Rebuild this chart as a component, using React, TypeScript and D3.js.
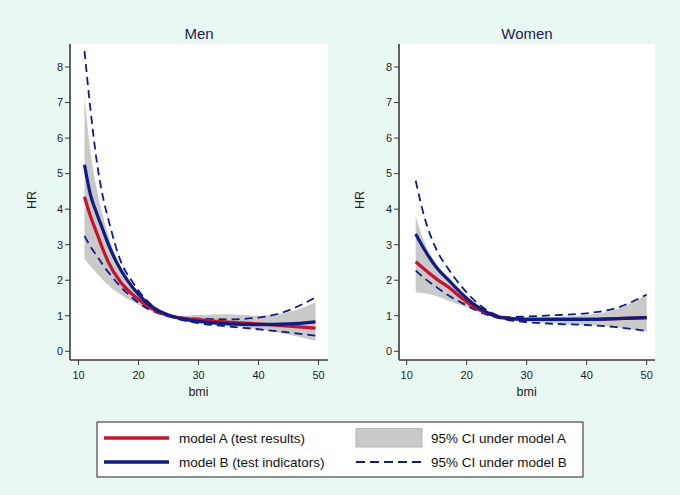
import React from "react";
import * as d3 from "d3";

// ---------- data ----------
const xTicks = [10, 20, 30, 40, 50];
const yTicks = [0, 1, 2, 3, 4, 5, 6, 7, 8];

// Men
const menBmi = [11, 12, 13, 14, 15, 17, 19, 21, 23, 25, 27, 30, 35, 40, 45, 49.5];
const menA = [4.35, 3.8, 3.35, 2.9, 2.5, 1.95, 1.6, 1.33, 1.13, 1.0, 0.94, 0.89, 0.82, 0.77, 0.71, 0.65];
const menB = [5.25, 4.4, 3.9, 3.45, 3.0, 2.3, 1.8, 1.43, 1.17, 1.02, 0.92, 0.84, 0.77, 0.75, 0.77, 0.83];
const menAUpper = [7.2, 5.6, 4.6, 3.85, 3.25, 2.4, 1.85, 1.45, 1.2, 1.05, 1.0, 1.02, 1.04, 1.0, 1.1, 1.38];
const menALower = [2.6, 2.4, 2.2, 2.02, 1.85, 1.6, 1.4, 1.22, 1.08, 0.98, 0.9, 0.82, 0.72, 0.62, 0.47, 0.3];
const menBUpper = [8.45, 6.8, 5.4, 4.4, 3.7, 2.55, 1.95, 1.5, 1.2, 1.02, 0.95, 0.92, 0.9, 0.95, 1.15, 1.52];
const menBLower = [3.25, 2.95, 2.7, 2.45, 2.22, 1.82, 1.5, 1.25, 1.09, 0.98, 0.89, 0.79, 0.7, 0.62, 0.53, 0.44];

// Women
const womenBmi = [11.5, 13, 15, 17, 19, 21, 23, 25, 27, 30, 35, 40, 45, 50];
const womenA = [2.52, 2.3, 2.03, 1.8, 1.52, 1.27, 1.1, 0.98, 0.93, 0.9, 0.9, 0.9, 0.92, 0.95];
const womenB = [3.3, 2.85, 2.35, 2.0, 1.65, 1.35, 1.13, 0.98, 0.92, 0.9, 0.9, 0.9, 0.92, 0.95];
const womenAUpper = [3.8, 3.05, 2.45, 2.0, 1.62, 1.32, 1.12, 1.0, 0.95, 0.95, 0.97, 1.02, 1.18, 1.6];
const womenALower = [1.66, 1.63, 1.55, 1.42, 1.3, 1.18, 1.06, 0.96, 0.9, 0.83, 0.78, 0.74, 0.68, 0.55];
const womenBUpper = [4.8, 3.75, 2.85, 2.3, 1.85, 1.48, 1.2, 1.02, 0.96, 0.98, 1.02, 1.07, 1.22, 1.6];
const womenBLower = [2.27, 2.05, 1.8, 1.57, 1.38, 1.2, 1.05, 0.95, 0.88, 0.82, 0.77, 0.74, 0.68, 0.57];

const panels = [
  { title: "Men", bmi: menBmi, a: menA, b: menB, aU: menAUpper, aL: menALower, bU: menBUpper, bL: menBLower },
  { title: "Women", bmi: womenBmi, a: womenA, b: womenB, aU: womenAUpper, aL: womenALower, bU: womenBUpper, bL: womenBLower },
];

const legendLabels = ["model A (test results)", "model B (test indicators)", "95% CI under model A", "95% CI under model B"];

// ---------- style ----------
const BG = "#EAF8F4";
const RED = "#C4122F";
const BLUE = "#0E1C84";
const GRAY = "#C9C9C9";
const AXIS = "#3a3a3a";
const FONT = "Liberation Sans, Arial, Helvetica, sans-serif";
const DASH = "8,5";

const W = 680;
const H = 495;

const frames = [
  { left: 70, right: 328, x0: 78.5, x1: 318.5, hrX: 32 },
  { left: 399, right: 655, x0: 406.7, x1: 646.7, hrX: 360 },
];
const TOP = 44;
const BOTTOM = 360;

function Panel({ p, f }: { p: any; f: any }) {
  const x = d3.scaleLinear().domain([10, 50]).range([f.x0, f.x1]);
  const y = d3.scaleLinear().domain([0, 8]).range([351.3, 67]);
  const pts = (vals: number[]) => p.bmi.map((b: number, i: number) => [b, vals[i]] as [number, number]);
  const line = d3
    .line<[number, number]>()
    .x((d) => x(d[0]))
    .y((d) => y(d[1]))
    .curve(d3.curveMonotoneX);
  const band = d3
    .area<number>()
    .x((_, i) => x(p.bmi[i]))
    .y0((_, i) => y(p.aL[i]))
    .y1((_, i) => y(p.aU[i]))
    .curve(d3.curveMonotoneX);
  const cx = (f.left + f.right) / 2;
  return (
    <g>
      <rect x={f.left} y={TOP} width={f.right - f.left} height={BOTTOM - TOP} fill="#fff" />
      <text x={cx} y={39} textAnchor="middle" fontSize={15} fill="#1a1a50" fontFamily={FONT}>
        {p.title}
      </text>
      <path d={band(p.bmi.map((_: number, i: number) => i)) || ""} fill={GRAY} stroke="none" />
      <path d={line(pts(p.bU)) || ""} fill="none" stroke={BLUE} strokeWidth={1.8} strokeDasharray={DASH} />
      <path d={line(pts(p.bL)) || ""} fill="none" stroke={BLUE} strokeWidth={1.8} strokeDasharray={DASH} />
      <path d={line(pts(p.a)) || ""} fill="none" stroke={RED} strokeWidth={3.2} />
      <path d={line(pts(p.b)) || ""} fill="none" stroke={BLUE} strokeWidth={3.2} />
      {/* axes */}
      <line x1={f.left} x2={f.left} y1={TOP} y2={BOTTOM} stroke={AXIS} strokeWidth={1.6} />
      <line x1={f.left} x2={f.right} y1={BOTTOM} y2={BOTTOM} stroke={AXIS} strokeWidth={1.6} />
      {yTicks.map((t) => (
        <g key={"y" + t}>
          <line x1={f.left - 5} x2={f.left} y1={y(t)} y2={y(t)} stroke={AXIS} strokeWidth={1} />
          <text x={f.left - 7} y={y(t)} dy="0.35em" textAnchor="end" fontSize={11} fill="#222" fontFamily={FONT}>
            {t}
          </text>
        </g>
      ))}
      {xTicks.map((t) => (
        <g key={"x" + t}>
          <line x1={x(t)} x2={x(t)} y1={BOTTOM} y2={BOTTOM + 5} stroke={AXIS} strokeWidth={1} />
          <text x={x(t)} y={BOTTOM + 19} textAnchor="middle" fontSize={11} fill="#222" fontFamily={FONT}>
            {t}
          </text>
        </g>
      ))}
      <text x={x(30)} y={BOTTOM + 36} textAnchor="middle" fontSize={12.5} fill="#222" fontFamily={FONT}>
        bmi
      </text>
      <text
        transform={`translate(${f.hrX},${200}) rotate(-90)`}
        textAnchor="middle"
        dy="0.35em"
        fontSize={12.5}
        fill="#222"
        fontFamily={FONT}
      >
        HR
      </text>
    </g>
  );
}

export default function App() {
  return (
    <svg width={W} height={H} style={{ position: "absolute", left: 0, top: 0, display: "block" }}>
      <rect x={0} y={0} width={W} height={H} fill={BG} />
      {panels.map((p, i) => (
        <Panel key={p.title} p={p} f={frames[i]} />
      ))}
      {/* legend */}
      <g fontFamily={FONT} fontSize={13.5} fill="#111">
        <rect x={97} y={422} width={486} height={55} fill="#fff" stroke="#222" strokeWidth={1} />
        <line x1={104} x2={169} y1={438} y2={438} stroke={RED} strokeWidth={3.6} />
        <line x1={104} x2={169} y1={462} y2={462} stroke={BLUE} strokeWidth={3.6} />
        <text x={179} y={438} dy="0.35em">{legendLabels[0]}</text>
        <text x={179} y={462} dy="0.35em">{legendLabels[1]}</text>
        <rect x={356} y={428.5} width={66} height={18.5} fill={GRAY} stroke="#b8b8b8" strokeWidth={1} />
        <line x1={356} x2={422} y1={462} y2={462} stroke={BLUE} strokeWidth={1.8} strokeDasharray="9,5" />
        <text x={431} y={438} dy="0.35em">{legendLabels[2]}</text>
        <text x={431} y={462} dy="0.35em">{legendLabels[3]}</text>
      </g>
    </svg>
  );
}
